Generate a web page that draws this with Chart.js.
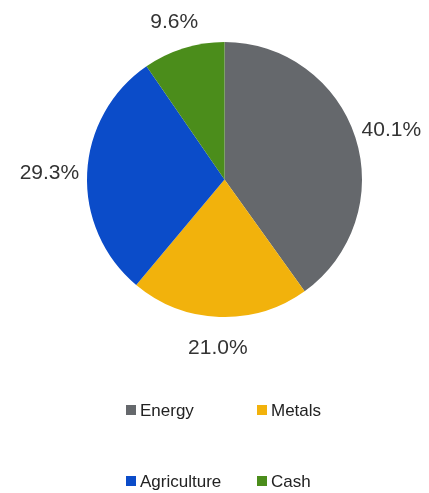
<!DOCTYPE html>
<html>
<head>
<meta charset="utf-8">
<script src="https://cdn.jsdelivr.net/npm/chart.js@4/dist/chart.umd.min.js"></script>
<style>
  html, body { margin: 0; padding: 0; background: #fff; }
  #wrap { position: relative; width: 429px; height: 493px; }
</style>
</head>
<body>
<div id="wrap"><canvas id="pieChart" width="429" height="493"></canvas></div>
<script>
// Data
const categories = ["Energy", "Metals", "Agriculture", "Cash"];
const shares = [40.1, 21.0, 29.3, 9.6];
const colors = ["#65686c", "#f2b20c", "#0b4cc9", "#4b8d1b"];

// Percent labels just outside each slice (text box kept clear of the rim)
const outsideLabels = {
  id: "outsideLabels",
  afterDatasetsDraw(chart) {
    const ctx = chart.ctx;
    const meta = chart.getDatasetMeta(0);
    ctx.save();
    ctx.font = "21px 'Liberation Sans', Arial, sans-serif";
    ctx.fillStyle = "#333333";
    ctx.textAlign = "center";
    ctx.textBaseline = "middle";
    meta.data.forEach((arc, i) => {
      const text = shares[i].toFixed(1) + "%";
      const w = ctx.measureText(text).width;
      const mid = (arc.startAngle + arc.endAngle) / 2;
      const cx = Math.cos(mid);
      const cy = Math.sin(mid);
      const x = arc.x + cx * (arc.outerRadius + 8) + (cx * w) / 2;
      const y = arc.y + cy * (arc.outerRadius + 19) + cy * 10.5 + 2;
      ctx.fillText(text, x, y);
    });
    ctx.restore();
  },
};

// Two-column legend below the pie
const gridLegend = {
  id: "gridLegend",
  afterDraw(chart) {
    const ctx = chart.ctx;
    const colX = [126, 257];
    const rowY = [411, 482];
    ctx.save();
    ctx.font = "17px 'Liberation Sans', Arial, sans-serif";
    ctx.textBaseline = "middle";
    ctx.textAlign = "left";
    categories.forEach((name, i) => {
      const x = colX[i % 2];
      const y = rowY[Math.floor(i / 2)];
      ctx.fillStyle = colors[i];
      ctx.fillRect(x, y - 6, 10, 10);
      ctx.fillStyle = "#222222";
      ctx.fillText(name, x + 14, y);
    });
    ctx.restore();
  },
};

document.addEventListener("DOMContentLoaded", () => {
  const ctx = document.getElementById("pieChart").getContext("2d");
  new Chart(ctx, {
    type: "pie",
    data: {
      labels: categories,
      datasets: [
        {
          data: shares,
          backgroundColor: colors,
          borderWidth: 0,
        },
      ],
    },
    options: {
      responsive: false,
      animation: false,
      layout: {
        padding: { left: 87, right: 67, top: 42, bottom: 176 },
      },
      plugins: {
        legend: { display: false },
        tooltip: { enabled: false },
      },
    },
    plugins: [outsideLabels, gridLegend],
  });
});
</script>
</body>
</html>
